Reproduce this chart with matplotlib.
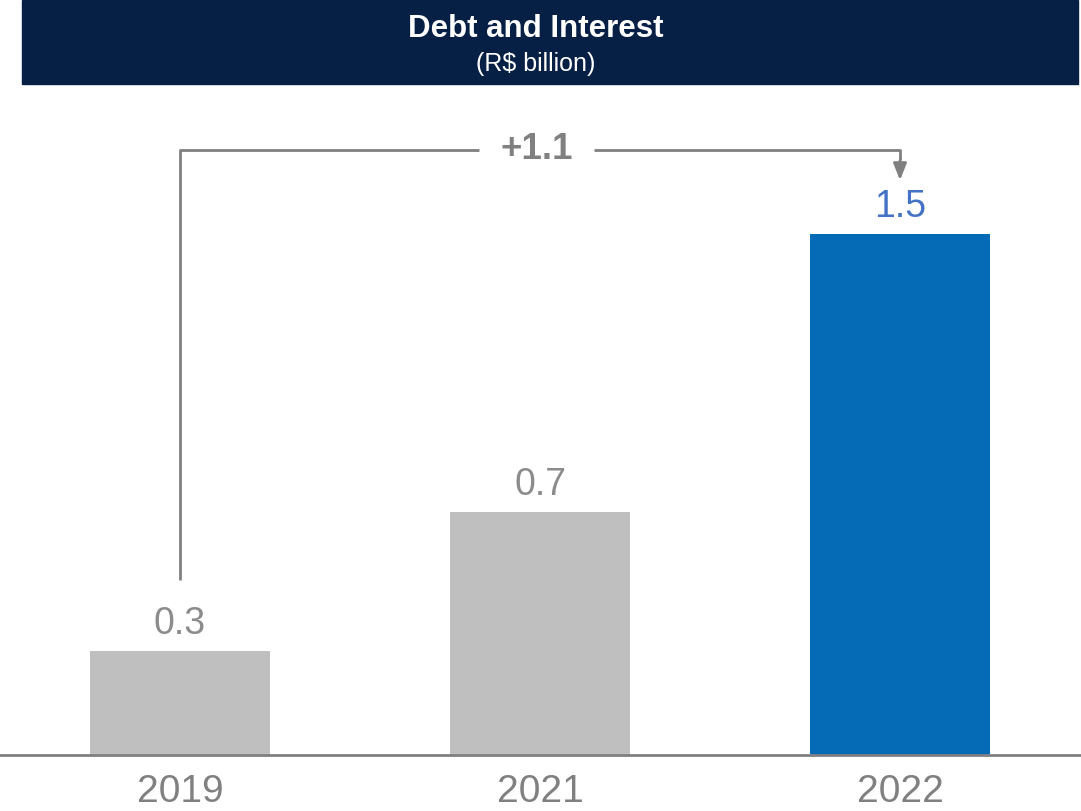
import matplotlib.pyplot as plt
from matplotlib.patches import Rectangle

plt.rcParams['font.family'] = ['Liberation Sans', 'DejaVu Sans']

years = ['2019', '2021', '2022']
values = [0.3, 0.7, 1.5]
delta_label = '+1.1'

bar_colors = ['#BFBFBF', '#BFBFBF', '#056BB6']
label_colors = ['#8C8C8C', '#8C8C8C', '#4472C4']
gray = '#808080'
navy = '#051F45'

W, H = 1081, 811
fig = plt.figure(figsize=(W / 100, H / 100), dpi=100)

# title banner
fig.patches.append(Rectangle((22 / W, 1 - 84 / H), (1078 - 22) / W, 84 / H,
                             transform=fig.transFigure, color=navy, zorder=0))
fig.text(536 / W, 1 - 29 / H, 'Debt and Interest', color='white',
         fontsize=22.5, fontweight='bold', ha='center', va='center')
fig.text(536 / W, 1 - 64 / H, '(R$ billion)', color='white',
         fontsize=18, ha='center', va='center')

# axes: baseline at y=755px, bars centred at 180/540/900px
px_per_unit = 521 / 1.5
ax = fig.add_axes([0, (H - 755) / H, 1, 655 / H])
ax.set_xlim(-0.5, (W - 180) / 360)
ax.set_ylim(0, 655 / px_per_unit)

x = range(len(years))
ax.bar(x, values, width=0.5, color=bar_colors, zorder=2)
for i, v in enumerate(values):
    ax.text(i, v + 0.025, f'{v:.1f}', ha='center', va='bottom',
            fontsize=27, color=label_colors[i])

for s in ax.spines.values():
    s.set_visible(False)
ax.axhline(0, color=gray, lw=2, zorder=3, clip_on=False)
ax.set_yticks([])
ax.set_xticks(list(x))
ax.set_xticklabels(years, fontsize=28, color=gray)
ax.tick_params(axis='x', length=0, pad=14)

# bracket from first bar to last bar with delta
y_top = values[2] + 0.242
y_start = values[0] + 0.204
ax.plot([0, 0, 0.83], [y_start, y_top, y_top], color=gray, lw=2,
        solid_capstyle='butt', clip_on=False)
ax.plot([1.15, 2, 2], [y_top, y_top, y_top - 0.03], color=gray, lw=2,
        solid_capstyle='butt', clip_on=False)
ax.annotate('', xy=(2, values[2] + 0.155), xytext=(2, y_top - 0.03),
            arrowprops=dict(arrowstyle='-|>,head_length=1.0,head_width=0.4',
                            color=gray, lw=2, shrinkA=0, shrinkB=0))
ax.text(0.99, y_top, delta_label, ha='center', va='center', fontsize=26.5,
        fontweight='bold', color=gray)

fig.savefig('out.png', dpi=100)
